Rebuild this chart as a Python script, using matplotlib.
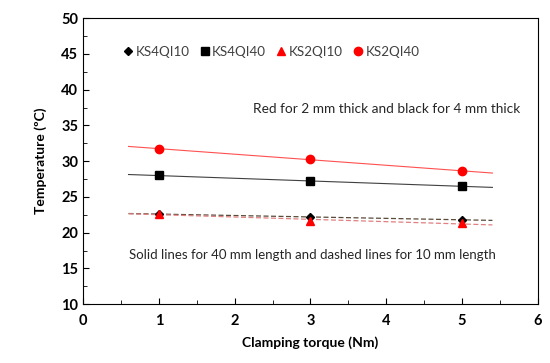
import numpy as np
import matplotlib
matplotlib.use("Agg")
import matplotlib.pyplot as plt
from matplotlib.ticker import MultipleLocator

plt.rcParams['font.family'] = ['Lato', 'DejaVu Sans']

torque = [1, 3, 5]
ks4qi10 = [22.6, 22.2, 21.8]
ks4qi40 = [28.0, 27.2, 26.5]
ks2qi10 = [22.6, 21.7, 21.3]
ks2qi40 = [31.7, 30.3, 28.6]

fig = plt.figure(figsize=(5.5, 3.63), dpi=100)
ax = fig.add_axes([0.151, 0.162, 0.827, 0.788])

# linear trend lines, extended 0.4 each side
xt = np.array([0.6, 5.4])
def trend(y):
  k, b = np.polyfit(torque, y, 1)
  return k * xt + b

ax.plot(xt, trend(ks4qi10), ls="--", color="#5a4a3a", lw=0.9, dashes=(4, 2))
ax.plot(xt, trend(ks2qi10), ls="--", color="#e08080", lw=0.9, dashes=(4, 2))
ax.plot(xt, trend(ks4qi40), color="#404040", lw=0.8)
ax.plot(xt, trend(ks2qi40), color="#ff5050", lw=0.8)

ax.plot(torque, ks4qi10, ls="none", marker="D", ms=4.5, color="black", label="KS4QI10")
ax.plot(torque, ks4qi40, ls="none", marker="s", ms=6, color="black", label="KS4QI40")
ax.plot(torque, ks2qi10, ls="none", marker="^", ms=5.5, color="red", label="KS2QI10")
ax.plot(torque, ks2qi40, ls="none", marker="o", ms=6, color="red", label="KS2QI40")

ax.set_xlim(0, 6)
ax.set_ylim(10, 50)
ax.xaxis.set_major_locator(MultipleLocator(1))
ax.xaxis.set_minor_locator(MultipleLocator(0.5))
ax.yaxis.set_major_locator(MultipleLocator(5))
ax.yaxis.set_minor_locator(MultipleLocator(2.5))
ax.tick_params(which="both", direction="in", labelsize=10.5)
ax.tick_params(which="major", length=4)
ax.tick_params(which="minor", length=3)
for lab in ax.get_xticklabels() + ax.get_yticklabels():
  lab.set_fontweight("bold")
ax.tick_params(axis="x", pad=7)

ax.set_xlabel("Clamping torque (Nm)", fontweight="bold", fontsize=10, labelpad=6)
ax.set_ylabel("Temperature (ºC)", fontweight="bold", fontsize=10, labelpad=10)

ax.text(4.0, 37.3, "Red for 2 mm thick and black for 4 mm thick", ha="center", va="center",
        fontsize=9.8, color="#262626")
ax.text(3.03, 16.9, "Solid lines for 40 mm length and dashed lines for 10 mm length", ha="center",
        va="center", fontsize=9.5, color="#262626")

leg = ax.legend(loc="upper left", bbox_to_anchor=(0.065, 0.945), ncol=4, frameon=False,
                fontsize=9.6, handlelength=0.5, handletextpad=0.3, columnspacing=0.9)
for t in leg.get_texts():
  t.set_color("#404040")

fig.savefig("out.png", dpi=100)
